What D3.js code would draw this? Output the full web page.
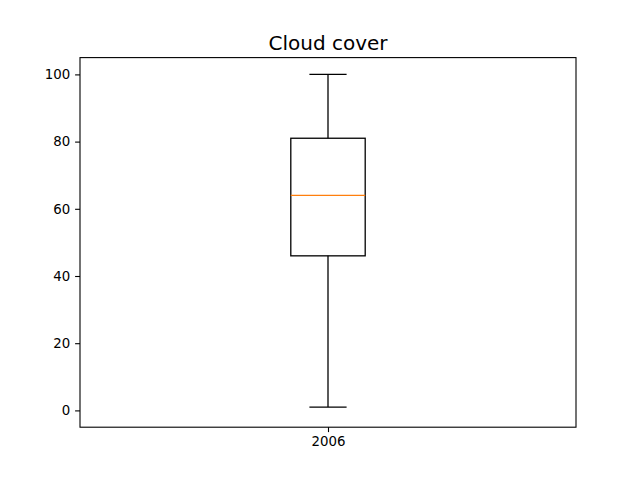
<!DOCTYPE html>
<html>
<head>
<meta charset="utf-8">
<script src="https://cdn.jsdelivr.net/npm/d3@7"></script>
<style>
  body { margin: 0; background: #fff; }
  svg { font-family: "DejaVu Sans", sans-serif; }
</style>
</head>
<body>
<div id="chart"></div>
<script>
// data
const categories = ["2006"];
const whiskerLow = [1];
const q1 = [46];
const median = [64];
const q3 = [81];
const whiskerHigh = [100];
const yTicks = [0, 20, 40, 60, 80, 100];

const width = 640, height = 480;
const margin = { top: 57.6, right: 64, bottom: 52.8, left: 80 };

const svg = d3.select("#chart").append("svg")
  .attr("width", width)
  .attr("height", height);

const x = d3.scaleLinear()
  .domain([0.5, categories.length + 0.5])
  .range([margin.left, width - margin.right]);

const y = d3.scaleLinear()
  .domain([-5, 105])
  .range([height - margin.bottom, margin.top]);

const boxW = 0.15, capW = 0.075;
const lw = 1.3;

// boxes
const boxes = svg.append("g")
  .selectAll("g")
  .data(categories)
  .join("g");

boxes.append("line")
  .attr("x1", (d, i) => x(i + 1)).attr("x2", (d, i) => x(i + 1))
  .attr("y1", (d, i) => y(whiskerLow[i])).attr("y2", (d, i) => y(q1[i]))
  .attr("stroke", "black").attr("stroke-width", lw);
boxes.append("line")
  .attr("x1", (d, i) => x(i + 1)).attr("x2", (d, i) => x(i + 1))
  .attr("y1", (d, i) => y(q3[i])).attr("y2", (d, i) => y(whiskerHigh[i]))
  .attr("stroke", "black").attr("stroke-width", lw);
boxes.append("line")
  .attr("x1", (d, i) => x(i + 1 - capW / 2)).attr("x2", (d, i) => x(i + 1 + capW / 2))
  .attr("y1", (d, i) => y(whiskerLow[i])).attr("y2", (d, i) => y(whiskerLow[i]))
  .attr("stroke", "black").attr("stroke-width", lw);
boxes.append("line")
  .attr("x1", (d, i) => x(i + 1 - capW / 2)).attr("x2", (d, i) => x(i + 1 + capW / 2))
  .attr("y1", (d, i) => y(whiskerHigh[i])).attr("y2", (d, i) => y(whiskerHigh[i]))
  .attr("stroke", "black").attr("stroke-width", lw);
boxes.append("rect")
  .attr("x", (d, i) => x(i + 1 - boxW / 2))
  .attr("width", (d, i) => x(i + 1 + boxW / 2) - x(i + 1 - boxW / 2))
  .attr("y", (d, i) => y(q3[i]))
  .attr("height", (d, i) => y(q1[i]) - y(q3[i]))
  .attr("fill", "none")
  .attr("stroke", "black").attr("stroke-width", lw);
boxes.append("line")
  .attr("x1", (d, i) => x(i + 1 - boxW / 2)).attr("x2", (d, i) => x(i + 1 + boxW / 2))
  .attr("y1", (d, i) => y(median[i])).attr("y2", (d, i) => y(median[i]))
  .attr("stroke", "#ff7f0e").attr("stroke-width", lw);

// axes
const xAxis = svg.append("g")
  .attr("transform", `translate(0,${height - margin.bottom})`)
  .call(d3.axisBottom(x).tickValues(categories.map((d, i) => i + 1))
    .tickFormat((d, i) => categories[i]).tickSizeOuter(0).tickSize(4.9).tickPadding(4.9));
const yAxis = svg.append("g")
  .attr("transform", `translate(${margin.left},0)`)
  .call(d3.axisLeft(y).tickValues(yTicks).tickSizeOuter(0).tickSize(4.9).tickPadding(4.9));

[xAxis, yAxis].forEach(a => {
  a.select(".domain").remove();
  a.selectAll("text").attr("font-size", "13.33px").attr("font-family", "DejaVu Sans, sans-serif").attr("fill", "black");
  a.selectAll("line").attr("stroke", "black").attr("stroke-width", 1.1);
});

// frame
svg.append("rect")
  .attr("x", margin.left).attr("y", margin.top)
  .attr("width", width - margin.left - margin.right)
  .attr("height", height - margin.top - margin.bottom)
  .attr("fill", "none").attr("stroke", "black").attr("stroke-width", 1.1);

// title
svg.append("text")
  .attr("x", (margin.left + width - margin.right) / 2)
  .attr("y", 50)
  .attr("text-anchor", "middle")
  .attr("font-size", "20px")
  .text("Cloud cover");
</script>
</body>
</html>
